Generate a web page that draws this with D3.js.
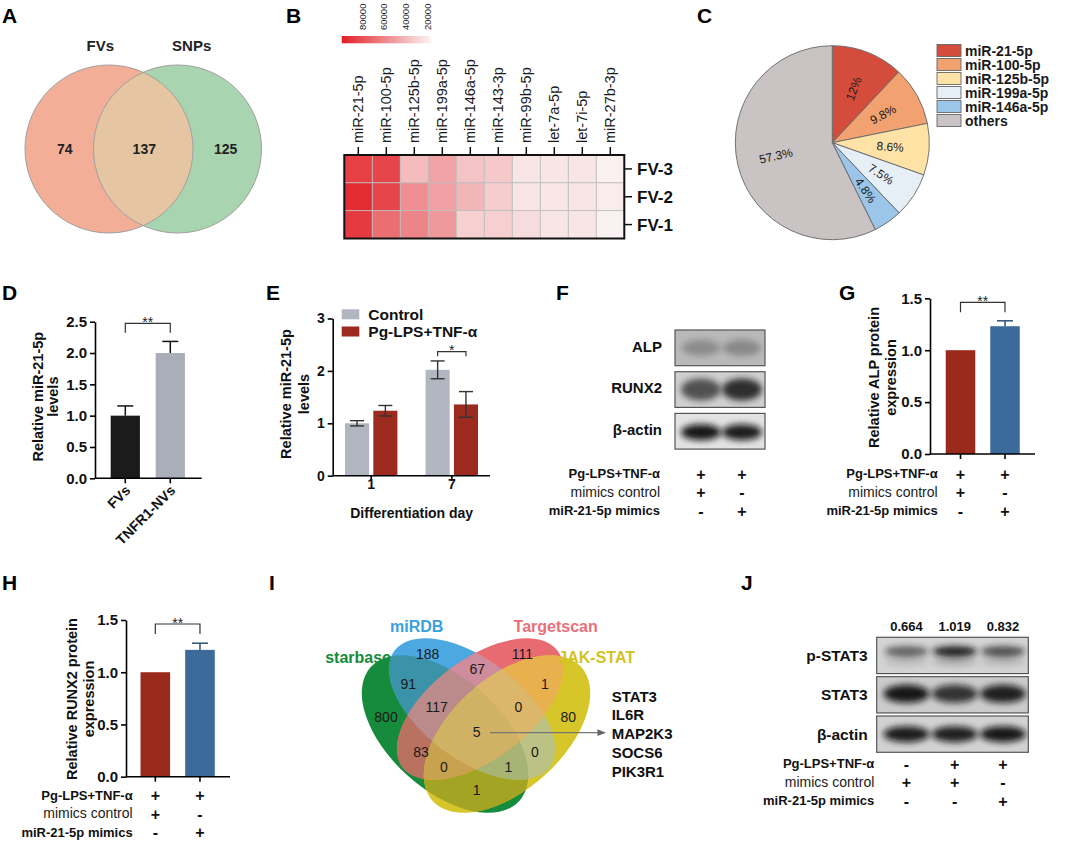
<!DOCTYPE html>
<html>
<head>
<meta charset="utf-8">
<script src="https://cdn.jsdelivr.net/npm/d3@7"></script>
<style>
  body { margin: 0; background: #fff; }
  svg text { font-family: Arial, "Liberation Sans", Helvetica, sans-serif; }
</style>
</head>
<body>
<svg id="fig" width="1065" height="843"></svg>
<script>
// ---- data ----
var vennASets = ["FVs", "SNPs"];
var vennACounts = [74, 137, 125];

var heatMirs = ["miR-21-5p", "miR-100-5p", "miR-125b-5p", "miR-199a-5p", "miR-146a-5p",
                "miR-143-3p", "miR-99b-5p", "let-7a-5p", "let-7i-5p", "miR-27b-3p"];
var heatRows = ["FV-3", "FV-2", "FV-1"];
var heatFV3 = [86600, 84300, 38700, 48700, 35900, 34000, 22400, 22400, 22800, 18600];
var heatFV2 = [94300, 84700, 56400, 49100, 41000, 32100, 22800, 22000, 22400, 20100];
var heatFV1 = [88900, 68800, 60300, 52200, 30900, 31300, 26300, 22400, 22400, 17800];
var heatTicks = [80000, 60000, 40000, 20000];

var pieLabels = ["miR-21-5p", "miR-100-5p", "miR-125b-5p", "miR-199a-5p", "miR-146a-5p", "others"];
var pieValues = [12, 9.8, 8.6, 7.5, 4.8, 57.3];
var pieText = ["12%", "9.8%", "8.6%", "7.5%", "4.8%", "57.3%"];

var dGroups = ["FVs", "TNFR1-NVs"];
var dMeans = [1.0, 2.0];
var dErr = [0.155, 0.185];

var eDays = ["1", "7"];
var eSeries = ["Control", "Pg-LPS+TNF-α"];
var eControl = [1.0, 2.02];
var eControlErr = [0.05, 0.17];
var ePg = [1.24, 1.36];
var ePgErr = [0.1, 0.245];

var fBlots = ["ALP", "RUNX2", "β-actin"];
var fBands = [[0.35, 0.38], [0.7, 0.9], [0.95, 0.92]];

var condLabels = ["Pg-LPS+TNF-α", "mimics control", "miR-21-5p mimics"];
var signs2 = [["+", "+"], ["+", "-"], ["-", "+"]];

var gMeans = [1.0, 1.231];
var gErr = [0, 0.052];
var hMeans = [1.0, 1.214];
var hErr = [0, 0.064];

var vennISets = ["starbase", "miRDB", "Targetscan", "JAK-STAT"];
var vennIRegions = ["A", "B", "C", "D", "AB", "AC", "AD", "BC", "BD", "CD", "ABC", "ABD", "ACD", "BCD", "ABCD"];
var vennICounts = [800, 188, 111, 80, 91, 83, 1, 67, 0, 1, 117, 1, 0, 0, 5];
var vennIGenes = ["STAT3", "IL6R", "MAP2K3", "SOCS6", "PIK3R1"];

var jRatios = ["0.664", "1.019", "0.832"];
var jBlots = ["p-STAT3", "STAT3", "β-actin"];
var jBands = [[0.6, 0.95, 0.7], [0.95, 0.8, 0.9], [0.92, 0.9, 0.95]];
var signs3 = [["-", "+", "+"], ["+", "+", "-"], ["-", "-", "+"]];

// ---- helpers ----
var svg = d3.select("#fig");
svg.append("rect").attr("width", 1065).attr("height", 843).attr("fill", "#fff");
var defs = svg.append("defs");

defs.append("filter").attr("id", "blur").attr("x", "-50%").attr("y", "-80%").attr("width", "200%").attr("height", "260%")
    .append("feGaussianBlur").attr("stdDeviation", 3);

function txt(g, s, x, y, size, weight, anchor, fill) {
    return g.append("text")
        .attr("x", x).attr("y", y)
        .attr("font-size", size)
        .attr("font-weight", weight || "bold")
        .attr("text-anchor", anchor || "start")
        .attr("fill", fill || "#111")
        .text(s);
}

function vtxt(g, s, x, y, size) { // rotated title, centred on x,y
    return g.append("text")
        .attr("transform", "translate(" + x + "," + y + ") rotate(-90)")
        .attr("dy", "0.35em")
        .attr("text-anchor", "middle")
        .attr("font-size", size)
        .attr("font-weight", "bold")
        .attr("fill", "#111")
        .text(s);
}

function styleAxis(ax, size) {
    ax.attr("font-family", null);
    ax.select(".domain").attr("stroke", "#000").attr("stroke-width", 1.6);
    ax.selectAll(".tick line").attr("stroke", "#000").attr("stroke-width", 1.6);
    ax.selectAll(".tick text").attr("font-size", size).attr("font-weight", "bold").attr("fill", "#111");
}

function yAxis(g, scale, x, ticks, fmt, size) {
    var ax = g.append("g").attr("transform", "translate(" + x + ",0)")
        .call(d3.axisLeft(scale).tickValues(ticks).tickFormat(fmt).tickSize(5).tickSizeOuter(0).tickPadding(3));
    styleAxis(ax, size);
    return ax;
}

function baseline(g, x1, x2, y) {
    g.append("line").attr("x1", x1).attr("x2", x2).attr("y1", y).attr("y2", y)
        .attr("stroke", "#000").attr("stroke-width", 1.6);
}

function bracket(g, x1, x2, y, drop, stars) {
    g.append("path")
        .attr("d", "M" + x1 + "," + (y + drop) + "V" + y + "H" + x2 + "V" + (y + drop))
        .attr("fill", "none").attr("stroke", "#333").attr("stroke-width", 1.2);
    txt(g, stars, (x1 + x2) / 2, y + 3.5, 14, "normal", "middle", "#222");
}

function errUp(g, cx, y0, y1, w, color) {
    g.append("line").attr("x1", cx).attr("x2", cx).attr("y1", y0).attr("y2", y1)
        .attr("stroke", color).attr("stroke-width", 1.5);
    g.append("line").attr("x1", cx - w / 2).attr("x2", cx + w / 2).attr("y1", y1).attr("y2", y1)
        .attr("stroke", color).attr("stroke-width", 1.5);
}

function drawCond(g, labelX, y0, lane, signs) {
    var step = 18.4;
    condLabels.forEach(function (lab, i) {
        var y = y0 + i * step;
        if (i === 1) {
            txt(g, lab, labelX, y, 14, "normal", "end", "#1a1a1a");
        } else {
            txt(g, lab, labelX, y, 13, "bold", "end", "#111");
        }
        signs[i].forEach(function (s, j) {
            txt(g, s, lane(j), y + 1.5, 16, "bold", "middle", "#111");
        });
    });
}

var blotCount = 0;
function drawBlot(g, x, y, w, h, lanes, intens, st) {
    var id = "blot-" + (blotCount++);
    defs.append("clipPath").attr("id", id).append("rect")
        .attr("x", x).attr("y", y).attr("width", w).attr("height", h);
    var b = g.append("g").attr("clip-path", "url(#" + id + ")");
    b.append("rect").attr("x", x).attr("y", y).attr("width", w).attr("height", h).attr("fill", st.bg);
    intens.forEach(function (v, i) {
        if (st.ghost) {
            b.append("ellipse")
                .attr("cx", lanes(i)).attr("cy", y + h / 2 + st.dy + st.ghost)
                .attr("rx", st.rx).attr("ry", st.ry * 0.8)
                .attr("fill", "#333").attr("opacity", v * 0.25)
                .attr("filter", "url(#blur)");
        }
        b.append("ellipse")
            .attr("cx", lanes(i)).attr("cy", y + h / 2 + st.dy)
            .attr("rx", st.rx).attr("ry", st.ry)
            .attr("fill", st.band).attr("opacity", v)
            .attr("filter", "url(#blur)");
    });
    g.append("rect").attr("x", x).attr("y", y).attr("width", w).attr("height", h)
        .attr("fill", "none").attr("stroke", "#555").attr("stroke-width", 1.2);
}

// ---- panel letters ----
[["A", 2, 23.3], ["B", 286, 23.3], ["C", 697, 23.3], ["D", 2, 300], ["E", 266, 300],
 ["F", 556, 300], ["G", 839, 299.5], ["H", 2, 590], ["I", 269, 590], ["J", 741, 590]].forEach(function (p) {
    txt(svg, p[0], p[1], p[2], 21, "bold", "start", "#000");
});

// ---- A: two-set venn ----
var gA = svg.append("g");
var aR = 84, aCx = [109, 177.5], aCy = 149;
defs.append("clipPath").attr("id", "a-right").append("circle").attr("cx", aCx[1]).attr("cy", aCy).attr("r", aR);
gA.append("circle").attr("cx", aCx[0]).attr("cy", aCy).attr("r", aR).attr("fill", "#f3ae97");
gA.append("circle").attr("cx", aCx[1]).attr("cy", aCy).attr("r", aR).attr("fill", "#a9d4b0");
gA.append("circle").attr("cx", aCx[0]).attr("cy", aCy).attr("r", aR).attr("fill", "#e6c6a2")
    .attr("clip-path", "url(#a-right)");
aCx.forEach(function (cx) {
    gA.append("circle").attr("cx", cx).attr("cy", aCy).attr("r", aR)
        .attr("fill", "none").attr("stroke", "#a0a0a0").attr("stroke-width", 1);
});
txt(gA, vennASets[0], 100.3, 50.7, 15, "bold", "middle", "#222");
txt(gA, vennASets[1], 191.7, 50.7, 15, "bold", "middle", "#222");
[64.7, 144.3, 225.7].forEach(function (x, i) {
    txt(gA, vennACounts[i], x, 153.5, 14, "bold", "middle", "#222");
});

// ---- B: heatmap ----
var gB = svg.append("g");
var hx = d3.scaleBand().domain(heatMirs).range([344.3, 624.3]);
var hy = d3.scaleBand().domain(heatRows).range([155, 238.5]);
var heatColor = d3.scaleLinear().domain([17000, 99000]).range(["#faf4f4", "#e22026"]);
var heatVals = [heatFV3, heatFV2, heatFV1];

heatRows.forEach(function (r, i) {
    gB.selectAll(null).data(heatVals[i]).enter().append("rect")
        .attr("x", function (d, j) { return hx(heatMirs[j]); })
        .attr("y", hy(r))
        .attr("width", hx.bandwidth())
        .attr("height", hy.bandwidth())
        .attr("fill", function (d) { return heatColor(d); })
        .attr("stroke", "#bdbdbd").attr("stroke-width", 0.8);
});
gB.append("rect").attr("x", 344.3).attr("y", 155).attr("width", 280).attr("height", hy.range()[1] - 155)
    .attr("fill", "none").attr("stroke", "#111").attr("stroke-width", 2);

heatMirs.forEach(function (m) {
    var cx = hx(m) + hx.bandwidth() / 2;
    gB.append("line").attr("x1", cx).attr("x2", cx).attr("y1", 147).attr("y2", 155)
        .attr("stroke", "#111").attr("stroke-width", 1.5);
    gB.append("text").attr("transform", "translate(" + cx + ",143) rotate(-90)")
        .attr("dy", "0.35em").attr("font-size", 14.5).attr("fill", "#1a1a1a").text(m);
});
heatRows.forEach(function (r) {
    var cy = hy(r) + hy.bandwidth() / 2;
    gB.append("line").attr("x1", 624.3).attr("x2", 632).attr("y1", cy).attr("y2", cy)
        .attr("stroke", "#111").attr("stroke-width", 1.5);
    txt(gB, r, 637, cy, 17, "bold", "start", "#111").attr("dy", "0.35em");
});

var grad = defs.append("linearGradient").attr("id", "heat-grad");
grad.append("stop").attr("offset", "0%").attr("stop-color", heatColor(99000));
grad.append("stop").attr("offset", "100%").attr("stop-color", heatColor(17000));
var cb = d3.scaleLinear().domain([99000, 17000]).range([341.7, 430.7]);
gB.append("rect").attr("x", cb.range()[0]).attr("y", 36).attr("width", cb.range()[1] - cb.range()[0])
    .attr("height", 7.3).attr("fill", "url(#heat-grad)");
heatTicks.forEach(function (t) {
    gB.append("text").attr("transform", "translate(" + cb(t) + ",30) rotate(-90)")
        .attr("dy", "0.35em").attr("font-size", 9.5).attr("fill", "#222").text(t);
});

// ---- C: pie ----
var gC = svg.append("g").attr("transform", "translate(832.3,142.7)");
var pieColors = ["#d44d3c", "#f2a271", "#fee2a6", "#e6eef6", "#9bc6ea", "#c9c3c3"];
var arcs = d3.pie().sort(null).value(function (d) { return d; })(pieValues);
var arc = d3.arc().innerRadius(0).outerRadius(97);
var labelArc = d3.arc().innerRadius(58).outerRadius(58);
gC.selectAll("path").data(arcs).enter().append("path")
    .attr("d", arc)
    .attr("fill", function (d, i) { return pieColors[i]; })
    .attr("stroke", "#666").attr("stroke-width", 0.9);
gC.selectAll("text.pl").data(arcs).enter().append("text")
    .attr("class", "pl")
    .attr("transform", function (d) {
        var c = labelArc.centroid(d);
        var deg = (d.startAngle + d.endAngle) / 2 * 180 / Math.PI - 90;
        if (deg > 90) deg -= 180;
        return "translate(" + c[0] + "," + c[1] + ") rotate(" + deg + ")";
    })
    .attr("dy", "0.35em").attr("text-anchor", "middle")
    .attr("font-size", 12).attr("fill", "#1a1a1a")
    .text(function (d, i) { return pieText[i]; });

var gCl = svg.append("g");
pieLabels.forEach(function (l, i) {
    var y = 44.5 + i * 14;
    gCl.append("rect").attr("x", 937).attr("y", y).attr("width", 24).attr("height", 12)
        .attr("fill", pieColors[i]).attr("stroke", "#666").attr("stroke-width", 0.9);
    txt(gCl, l, 965, y + 11.3, 14, "bold", "start", "#1a1a1a");
});

// ---- D: bars ----
var gD = svg.append("g");
var dY = d3.scaleLinear().domain([0, 2.5]).range([478.3, 321.7]);
var dX = d3.scaleBand().domain(dGroups).range([102.8, 192.8]).paddingInner(0.35).paddingOuter(0.175);
var dColors = ["#1b1b1b", "#a9aeb8"];
dGroups.forEach(function (g, i) {
    var cx = dX(g) + dX.bandwidth() / 2;
    errUp(gD, cx, dY(dMeans[i]), dY(dMeans[i] + dErr[i]), 16, "#111");
});
gD.selectAll("rect").data(dMeans).enter().append("rect")
    .attr("x", function (d, i) { return dX(dGroups[i]); })
    .attr("y", function (d) { return dY(d); })
    .attr("width", dX.bandwidth())
    .attr("height", function (d) { return dY(0) - dY(d); })
    .attr("fill", function (d, i) { return dColors[i]; });
yAxis(gD, dY, 95, [0, 0.5, 1, 1.5, 2, 2.5], d3.format(".1f"), 15);
baseline(gD, 95, 201.7, dY(0));
dGroups.forEach(function (g) {
    var cx = dX(g) + dX.bandwidth() / 2;
    gD.append("line").attr("x1", cx).attr("x2", cx).attr("y1", dY(0)).attr("y2", dY(0) + 5)
        .attr("stroke", "#000").attr("stroke-width", 1.6);
    gD.append("text").attr("transform", "translate(" + (cx + 6) + "," + (dY(0) + 13) + ") rotate(-45)")
        .attr("text-anchor", "end").attr("font-size", 14).attr("font-weight", "bold").attr("fill", "#111").text(g);
});
vtxt(gD, "Relative miR-21-5p", 37.5, 396.7, 14.5);
vtxt(gD, "levels", 53, 396.7, 14.5);
bracket(gD, dX(dGroups[0]) + dX.bandwidth() / 2, dX(dGroups[1]) + dX.bandwidth() / 2, 323.3, 9.4, "**");

// ---- E: grouped bars ----
var gE = svg.append("g");
var eY = d3.scaleLinear().domain([0, 3]).range([475.7, 318.5]);
var eX0 = d3.scaleBand().domain(eDays).range([330.9, 492.1]).paddingInner(0.35).paddingOuter(0.175);
var eX1 = d3.scaleBand().domain(eSeries).range([0, eX0.bandwidth()]).paddingInner(0.15);
var eColors = ["#b1b6c1", "#9b2a1f"];
var eData = [[eControl, eControlErr], [ePg, ePgErr]];
eData.forEach(function (s, k) {
    eDays.forEach(function (day, i) {
        var x = eX0(day) + eX1(eSeries[k]);
        gE.append("rect").attr("x", x).attr("y", eY(s[0][i]))
            .attr("width", eX1.bandwidth()).attr("height", eY(0) - eY(s[0][i]))
            .attr("fill", eColors[k]);
    });
});
eData.forEach(function (s, k) {
    eDays.forEach(function (day, i) {
        var cx = eX0(day) + eX1(eSeries[k]) + eX1.bandwidth() / 2;
        var lo = eY(s[0][i] - s[1][i]), hi = eY(s[0][i] + s[1][i]);
        gE.append("line").attr("x1", cx).attr("x2", cx).attr("y1", lo).attr("y2", hi)
            .attr("stroke", "#333").attr("stroke-width", 1.4);
        [lo, hi].forEach(function (yy) {
            gE.append("line").attr("x1", cx - 7).attr("x2", cx + 7).attr("y1", yy).attr("y2", yy)
                .attr("stroke", "#333").attr("stroke-width", 1.4);
        });
    });
});
yAxis(gE, eY, 332.7, [0, 1, 2, 3], d3.format("d"), 14);
baseline(gE, 332.7, 490, eY(0));
eDays.forEach(function (day) {
    var cx = eX0(day) + eX0.bandwidth() / 2;
    gE.append("line").attr("x1", cx).attr("x2", cx).attr("y1", eY(0)).attr("y2", eY(0) + 5)
        .attr("stroke", "#000").attr("stroke-width", 1.6);
    txt(gE, day, cx, 489, 14, "bold", "middle", "#111");
});
txt(gE, "Differentiation day", 411.7, 518, 14, "bold", "middle", "#111");
vtxt(gE, "Relative miR-21-5p", 286, 394, 14.5);
vtxt(gE, "levels", 303.5, 394, 14.5);
eSeries.forEach(function (s, k) {
    var y = 309.3 + k * 17.2;
    gE.append("rect").attr("x", 341.7).attr("y", y).attr("width", 17.6).attr("height", 10).attr("fill", eColors[k]);
    txt(gE, s, 368.3, y + 10.3, 15.5, "bold", "start", "#111");
});
bracket(gE, eX0("7") + eX1(eSeries[0]) + eX1.bandwidth() / 2, eX0("7") + eX1(eSeries[1]) + eX1.bandwidth() / 2,
    351.7, 4.5, "*");

// ---- F: western blot ----
var gF = svg.append("g");
var fLane = d3.scalePoint().domain([0, 1]).range([701, 742]);
var fStyle = [
    { bg: "#b9b9b9", band: "#3a3a3a", rx: 19, ry: 8, dy: 0 },
    { bg: "#d0d0d0", band: "#1e1e1e", rx: 20, ry: 11, dy: 0 },
    { bg: "#e2e2e2", band: "#111", rx: 20, ry: 8, dy: 1 }
];
fBlots.forEach(function (name, i) {
    var y = 330 + i * 41.7;
    drawBlot(gF, 675, y, 90, 35.7, fLane, fBands[i], fStyle[i]);
    txt(gF, name, 662, y + 21.7, 15, "bold", "end", "#111");
});
drawCond(gF, 660, 478.3, fLane, signs2);

// ---- G / H: normalised protein bars ----
function protBars(g, x0, x1, range, bandRange, means, errs, title1, title2, tx, ty) {
    var y = d3.scaleLinear().domain([0, 1.5]).range(range);
    var x = d3.scaleBand().domain([0, 1]).range(bandRange).paddingInner(0.337).paddingOuter(0.1685);
    var cols = ["#9a2a1c", "#3c6a9b"];
    means.forEach(function (m, i) {
        var cx = x(i) + x.bandwidth() / 2;
        if (errs[i] > 0) errUp(g, cx, y(m), y(m + errs[i]), 16, "#2d4f73");
    });
    g.selectAll("rect.bar").data(means).enter().append("rect").attr("class", "bar")
        .attr("x", function (d, i) { return x(i); })
        .attr("y", function (d) { return y(d); })
        .attr("width", x.bandwidth())
        .attr("height", function (d) { return y(0) - y(d); })
        .attr("fill", function (d, i) { return cols[i]; });
    yAxis(g, y, x0, [0, 0.5, 1, 1.5], d3.format(".1f"), 15);
    baseline(g, x0, x1, y(0));
    [0, 1].forEach(function (i) {
        var cx = x(i) + x.bandwidth() / 2;
        g.append("line").attr("x1", cx).attr("x2", cx).attr("y1", y(0)).attr("y2", y(0) + 5)
            .attr("stroke", "#000").attr("stroke-width", 1.6);
    });
    vtxt(g, title1, tx, ty, 14.5);
    vtxt(g, title2, tx + 17, ty, 14.5);
    var lane = function (i) { return x(i) + x.bandwidth() / 2; };
    bracket(g, lane(0), lane(1), y(1.5) + 4, 10, "**");
    return lane;
}
var gG = svg.append("g");
var gLane = protBars(gG, 930, 1035, [454, 298.3], [938.25, 1027.25], gMeans, gErr,
    "Relative ALP protein", "expression", 873.5, 377.5);
drawCond(gG, 937.7, 478.3, gLane, signs2);

var gH = svg.append("g");
var hLane = protBars(gH, 126, 230, [776.7, 620], [133, 222.3], hMeans, hErr,
    "Relative RUNX2 protein", "expression", 71.5, 699);
drawCond(gH, 132.7, 799.8, hLane, signs2);

// ---- I: four-set venn ----
var gI = svg.append("g");
var vCx = 476;
var vEll = {
    A: { cx: vCx - 31, cy: 734, rx: 100, ry: 56, rot: 42 },
    B: { cx: vCx - 4, cy: 709, rx: 97, ry: 50, rot: 37 },
    C: { cx: vCx + 4, cy: 709, rx: 97, ry: 50, rot: -37 },
    D: { cx: vCx + 31, cy: 734, rx: 100, ry: 56, rot: -42 }
};
var vColors = {
    A: "#168b3b", B: "#4ba8e0", C: "#e96b72", D: "#d7c62a",
    AB: "#3b93aa", AC: "#b8725f", AD: "#a3a324", BC: "#ce8c9c", BD: "#bcc284", CD: "#e9b04e",
    ABC: "#bb8b8b", ABD: "#a8b474", ACD: "#c9a24f", BCD: "#dcb66a", ABCD: "#cfb264"
};
Object.keys(vEll).forEach(function (k) {
    var e = vEll[k];
    defs.append("clipPath").attr("id", "vi-" + k).append("ellipse")
        .attr("transform", "translate(" + e.cx + "," + e.cy + ") rotate(" + e.rot + ")")
        .attr("rx", e.rx).attr("ry", e.ry);
});
vennIRegions.forEach(function (r) {
    var p = gI;
    r.split("").forEach(function (k) {
        p = p.append("g").attr("clip-path", "url(#vi-" + k + ")");
    });
    p.append("rect").attr("x", 340).attr("y", 620).attr("width", 270).attr("height", 210)
        .attr("fill", vColors[r]);
});
var vLabelPos = {
    A: [386, 717.3], B: [427.7, 654.3], C: [522.3, 654.3], D: [568.3, 717.3],
    AB: [408.3, 684.3], AC: [421, 751.7], AD: [476.7, 790], BC: [477.3, 669], BD: [535, 751.7],
    CD: [545, 684], ABC: [436.7, 707.3], ABD: [508.3, 766.7], ACD: [444, 766.7], BCD: [518.3, 707.3],
    ABCD: [476.7, 732.3]
};
vennIRegions.forEach(function (r, i) {
    txt(gI, vennICounts[i], vLabelPos[r][0], vLabelPos[r][1], 14, "normal", "middle", "#1a1a1a")
        .attr("dy", "0.35em");
});
txt(gI, vennISets[0], 391, 663.3, 16, "bold", "end", "#168b3b");
txt(gI, vennISets[1], 416.7, 631.7, 16, "bold", "middle", "#3aa0dc");
txt(gI, vennISets[2], 555.7, 631.7, 16, "bold", "middle", "#e8707a");
txt(gI, vennISets[3], 596.7, 663.3, 16, "bold", "middle", "#d2c31f");

defs.append("marker").attr("id", "arrow").attr("viewBox", "0 0 10 10").attr("refX", 9).attr("refY", 5)
    .attr("markerWidth", 7).attr("markerHeight", 7).attr("orient", "auto")
    .append("path").attr("d", "M0,1L10,5L0,9z").attr("fill", "#666");
gI.append("line").attr("x1", 490).attr("x2", 605).attr("y1", 732.7).attr("y2", 732.7)
    .attr("stroke", "#777").attr("stroke-width", 1.2).attr("marker-end", "url(#arrow)");
vennIGenes.forEach(function (gname, i) {
    txt(gI, gname, 611.7, 701.7 + i * 18.75, 15, "bold", "start", "#111");
});

// ---- J: western blot ----
var gJ = svg.append("g");
var jLane = d3.scalePoint().domain([0, 1, 2]).range([906.5, 1003]);
jRatios.forEach(function (r, i) {
    txt(gJ, r, jLane(i), 630.7, 13, "bold", "middle", "#111");
});
var jStyle = [
    { bg: "#d4d4d4", band: "#161616", rx: 22, ry: 5.5, dy: -4, ghost: 10 },
    { bg: "#cbcbcb", band: "#111", rx: 23, ry: 9, dy: -1 },
    { bg: "#d2d2d2", band: "#111", rx: 23, ry: 8, dy: 0 }
];
jBlots.forEach(function (name, i) {
    var y = 637.3 + i * 39.35;
    drawBlot(gJ, 876.7, y, 151.6, 36.3, jLane, jBands[i], jStyle[i]);
    txt(gJ, name, 867.7, y + 23.8, 15.5, "bold", "end", "#111");
});
drawCond(gJ, 874.3, 768.3, jLane, signs3);
</script>
</body>
</html>
